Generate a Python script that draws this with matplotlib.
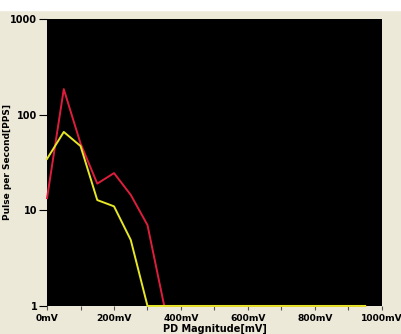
import matplotlib.pyplot as plt
import numpy as np

# PD magnitude bins (mV)
mv = [0, 50, 100, 150, 200, 250, 300, 350, 400, 450,
      500, 550, 600, 650, 700, 750, 800, 850, 900, 950]
red_pps = [13.4, 185, 50, 19, 24.5, 14.5, 7, 1, 1, 1,
           1, 1, 1, 1, 1, 1, 1, 1, 1, 1]
yellow_pps = [34.5, 66, 47, 12.8, 11, 4.9, 1, 1, 1, 1,
              1, 1, 1, 1, 1, 1, 1, 1, 1, 1]

x_ticks = [0, 200, 400, 600, 800, 1000]
x_labels = ['0mV', '200mV', '400mV', '600mV', '800mV', '1000mV']
y_ticks = [1, 10, 100, 1000]
y_labels = ['1', '10', '100', '1000']

bg = '#ECE9D8'
fig = plt.figure(figsize=(4.02, 3.34), dpi=100, facecolor=bg)
fig.patches.append(plt.Rectangle((0, 0.97), 1, 0.03, transform=fig.transFigure,
                                 color='white', zorder=0))
ax = fig.add_axes([0.117, 0.084, 0.833, 0.859])
ax.set_facecolor('black')

ax.plot(mv, red_pps, color='#DC1E3C', lw=1.4, clip_on=False, zorder=3)
ax.plot(mv, yellow_pps, color='#E6E628', lw=1.4, clip_on=False, zorder=4)

ax.set_yscale('log')
ax.set_xlim(0, 1000)
ax.set_ylim(1, 1000)
ax.set_yticks(y_ticks)
ax.set_yticklabels(y_labels, fontsize=7, fontweight='bold')
ax.yaxis.set_minor_locator(plt.NullLocator())
ax.set_xticks(x_ticks)
ax.set_xticklabels(x_labels, fontsize=6.6, fontweight='bold')
ax.set_xticks(np.arange(100, 1000, 200), minor=True)
ax.tick_params(axis='y', length=6, width=0.8, pad=1)
ax.tick_params(axis='x', which='both', length=3, width=0.8, pad=3, color='#555555')

for s in ax.spines.values():
    s.set_visible(False)

ax.set_xlabel('PD Magnitude[mV]', fontsize=7, fontweight='bold', labelpad=0)
ax.set_ylabel('Pulse per Second[PPS]', fontsize=6.5, fontweight='bold', labelpad=-1)

fig.savefig('out.png', dpi=100, facecolor=bg)
